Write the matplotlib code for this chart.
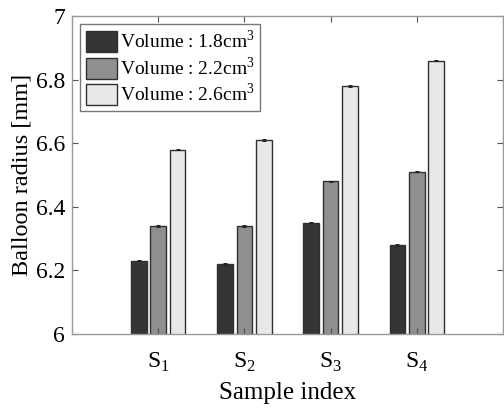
import matplotlib
matplotlib.use("Agg")
import matplotlib.pyplot as plt
import numpy as np

plt.rcParams['font.family'] = ['Liberation Serif', 'DejaVu Serif']
plt.rcParams['mathtext.fontset'] = 'custom'
plt.rcParams['mathtext.rm'] = 'Liberation Serif'

samples = ['S$_\\mathregular{1}$', 'S$_\\mathregular{2}$', 'S$_\\mathregular{3}$', 'S$_\\mathregular{4}$']
labels = ['Volume : 1.8cm$^\\mathregular{3}$', 'Volume : 2.2cm$^\\mathregular{3}$', 'Volume : 2.6cm$^\\mathregular{3}$']
vol_18 = [6.23, 6.22, 6.35, 6.28]
vol_22 = [6.34, 6.34, 6.48, 6.51]
vol_26 = [6.58, 6.61, 6.78, 6.86]
err_18 = [0.002, 0.002, 0.002, 0.002]
err_22 = [0.002, 0.002, 0.002, 0.002]
err_26 = [0.002, 0.002, 0.002, 0.002]

colors = ['#353535', '#8f8f8f', '#e8e8e8']

fig = plt.figure(figsize=(5.04, 4.08), dpi=100)
ax = fig.add_axes([72/504, 74/408, 431/504, 318/408])

x = np.arange(1, 5)
w = 0.18
off = 0.225
series = [vol_18, vol_22, vol_26]
errs = [err_18, err_22, err_26]
for i in range(3):
    ax.bar(x + (i - 1) * off, series[i], w, color=colors[i],
           edgecolor='#303030', linewidth=1.0, label=labels[i],
           yerr=errs[i], error_kw=dict(ecolor='#202020', elinewidth=0.7, capsize=1.5, capthick=0.7))

ax.set_xlim(0, 5)
ax.set_ylim(6, 7)
ax.set_xticks(x)
ax.set_xticklabels(samples, fontsize=17)
ax.set_yticks([6, 6.2, 6.4, 6.6, 6.8, 7])
ax.set_yticklabels(['6', '6.2', '6.4', '6.6', '6.8', '7'], fontsize=17)
ax.tick_params(direction='in', top=True, right=True, length=4, color='#555555', pad=5)
ax.tick_params(axis='x', pad=12)
for s in ax.spines.values():
    s.set_color('#999999')
    s.set_linewidth(1.0)

ax.set_xlabel('Sample index', fontsize=18, labelpad=6)
ax.set_ylabel('Balloon radius [mm]', fontsize=17.5, labelpad=2)

leg = ax.legend(loc='upper left', fontsize=14, frameon=True, fancybox=False,
                edgecolor='#555555', handlelength=1.6, handleheight=1.3,
                handletextpad=0.15, borderpad=0.3, labelspacing=0.2,
                borderaxespad=0.4)
leg.get_frame().set_linewidth(1.0)

fig.savefig('out.png', dpi=100)
